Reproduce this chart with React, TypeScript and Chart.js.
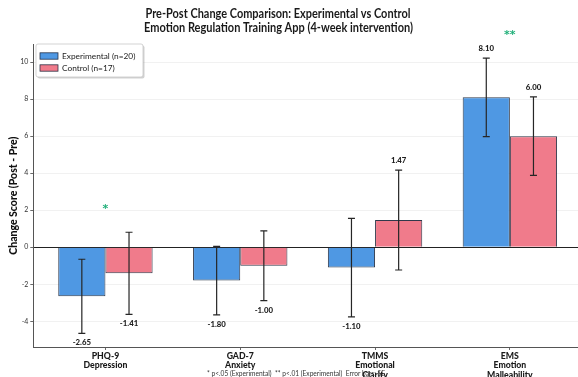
import { useEffect, useRef } from 'react';
import { Chart, registerables } from 'chart.js';
Chart.register(...registerables);

const categories: string[][] = [
  ['PHQ-9', 'Depression'],
  ['GAD-7', 'Anxiety'],
  ['TMMS', 'Emotional', 'Clarity'],
  ['EMS', 'Emotion', 'Malleability'],
];
const expMeans = [-2.65, -1.8, -1.1, 8.1];
const expSE = [2.0, 1.85, 2.66, 2.12];
const ctrlMeans = [-1.41, -1.0, 1.47, 6.0];
const ctrlSE = [2.22, 1.88, 2.7, 2.12];
const significance = ['*', '', '', '**'];
const yTicks = [-4, -2, 0, 2, 4, 6, 8, 10];
const seriesLabels = ['Experimental (n=20)', 'Control (n=17)'];
const titleLines = [
  'Pre-Post Change Comparison: Experimental vs Control',
  'Emotion Regulation Training App (4-week intervention)',
];
const yTitle = 'Change Score (Post - Pre)';
const footnote = '* p<.05 (Experimental)  ** p<.01 (Experimental)  Error bars: SE';

const FONT = 'Lato, "Open Sans", sans-serif';
const BLUE = '#4f98e3';
const PINK = '#f07b8b';
const EDGE = 'rgba(25,35,55,0.9)';
const STAR = '#22b07a';

const seList = [expSE, ctrlSE];
const meanList = [expMeans, ctrlMeans];

const overlayPlugin = {
  id: 'overlay',
  afterDatasetsDraw(chart: any) {
    const ctx = chart.ctx;
    const ys = chart.scales.y;
    ctx.save();
    for (let d = 0; d < 2; d++) {
      const meta = chart.getDatasetMeta(d);
      meta.data.forEach((el: any, i: number) => {
        const v = meanList[d][i];
        const se = seList[d][i];
        const x = el.x;
        const yT = ys.getPixelForValue(v + se);
        const yB = ys.getPixelForValue(v - se);
        ctx.strokeStyle = '#262626';
        ctx.lineWidth = 1.2;
        ctx.beginPath();
        ctx.moveTo(x, yT);
        ctx.lineTo(x, yB);
        ctx.moveTo(x - 3.5, yT);
        ctx.lineTo(x + 3.5, yT);
        ctx.moveTo(x - 3.5, yB);
        ctx.lineTo(x + 3.5, yB);
        ctx.stroke();
        ctx.fillStyle = '#1e1e1e';
        ctx.font = `900 7.8px ${FONT}`;
        ctx.textAlign = 'center';
        if (v >= 0) {
          ctx.textBaseline = 'bottom';
          ctx.fillText(v.toFixed(2), x, ys.getPixelForValue(v + se + 0.3));
        } else {
          ctx.textBaseline = 'top';
          ctx.fillText(v.toFixed(2), x, ys.getPixelForValue(v - se - 0.3));
        }
      });
    }
    ctx.restore();
  },
  afterDraw(chart: any) {
    const ctx = chart.ctx;
    const xs = chart.scales.x;
    const ys = chart.scales.y;
    ctx.save();
    significance.forEach((s, i) => {
      if (!s) return;
      const top = Math.max(expMeans[i] + expSE[i], ctrlMeans[i] + ctrlSE[i]);
      const cy = ys.getPixelForValue(top + 1.37);
      ctx.font = `bold 11px "DejaVu Sans", sans-serif`;
      ctx.fillStyle = STAR;
      ctx.textAlign = 'center';
      ctx.textBaseline = 'alphabetic';
      const m = ctx.measureText(s);
      const off = (m.actualBoundingBoxAscent - m.actualBoundingBoxDescent) / 2;
      ctx.fillText(s, xs.getPixelForValue(i), cy + off);
    });
    ctx.fillStyle = '#1a1a1a';
    ctx.font = `bold 12.5px ${FONT}`;
    ctx.textAlign = 'center';
    ctx.textBaseline = 'middle';
    ctx.fillText(titleLines[0], 278, 14, 265);
    ctx.fillText(titleLines[1], 278.5, 27.5, 269);
    const lx = 36, ly = 44, lw = 107, lh = 33;
    ctx.fillStyle = 'rgba(0,0,0,0.18)';
    ctx.beginPath();
    ctx.roundRect(lx + 1.5, ly + 1.5, lw, lh, 2);
    ctx.fill();
    ctx.fillStyle = '#fff';
    ctx.strokeStyle = '#c8c8c8';
    ctx.lineWidth = 0.8;
    ctx.beginPath();
    ctx.roundRect(lx, ly, lw, lh, 2);
    ctx.fill();
    ctx.stroke();
    const cols = [BLUE, PINK];
    const rowY = [56, 68];
    ctx.font = `8.3px ${FONT}`;
    ctx.textAlign = 'left';
    ctx.textBaseline = 'middle';
    for (let k = 0; k < 2; k++) {
      ctx.fillStyle = cols[k];
      ctx.fillRect(40, rowY[k] - 3.2, 18, 6.4);
      ctx.strokeStyle = EDGE;
      ctx.lineWidth = 0.8;
      ctx.strokeRect(40, rowY[k] - 3.2, 18, 6.4);
      ctx.fillStyle = '#222';
      ctx.fillText(seriesLabels[k], 62, rowY[k], 78);
    }
    ctx.font = `7px ${FONT}`;
    ctx.fillStyle = '#333';
    ctx.textAlign = 'center';
    ctx.fillText(footnote, 296, 373.5, 178);
    ctx.restore();
  },
};

export default function App() {
  const ref = useRef<HTMLCanvasElement | null>(null);
  useEffect(() => {
    if (!ref.current) return;
    const chart = new Chart(ref.current, {
      type: 'bar',
      data: {
        datasets: [
          {
            label: seriesLabels[0],
            data: expMeans.map((y, i) => ({ x: i, y })),
            backgroundColor: BLUE,
            borderColor: EDGE,
            borderWidth: 1,
            categoryPercentage: 0.7,
            barPercentage: 1,
          },
          {
            label: seriesLabels[1],
            data: ctrlMeans.map((y, i) => ({ x: i, y })),
            backgroundColor: PINK,
            borderColor: EDGE,
            borderWidth: 1,
            categoryPercentage: 0.7,
            barPercentage: 1,
          },
        ],
      },
      options: {
        responsive: false,
        animation: false,
        devicePixelRatio: 1,
        layout: { padding: { top: 44.4, left: 0, right: 0, bottom: 0 } },
        plugins: {
          legend: { display: false },
          tooltip: { enabled: false },
          title: { display: false },
        },
        scales: {
          x: {
            type: 'linear',
            offset: false,
            min: -0.535,
            max: 3.535,
            afterBuildTicks: (s: any) => {
              s.ticks = categories.map((_, i) => ({ value: i }));
            },
            afterFit: (s: any) => {
              s.height = 30;
            },
            ticks: {
              callback: (v: any) => categories[Math.round(Number(v))] ?? '',
              font: { family: FONT, size: 8.7, weight: '900', lineHeight: 1.1 },
              color: '#1a1a1a',
              padding: 1,
              maxRotation: 0,
              autoSkip: false,
            },
            grid: {
              offset: false,
              drawOnChartArea: false,
              drawTicks: true,
              tickLength: 3,
              tickColor: '#444',
              tickWidth: 0.8,
            },
            border: { display: true, color: '#555', width: 1 },
          },
          y: {
            type: 'linear',
            min: -5.39,
            max: 10.96,
            afterBuildTicks: (s: any) => {
              s.ticks = yTicks.map((v) => ({ value: v }));
            },
            afterFit: (s: any) => {
              s.width = 33.3;
            },
            ticks: {
              callback: (v: any) => String(v),
              font: { family: FONT, size: 7 },
              color: '#333',
              padding: 2,
            },
            grid: {
              color: (c: any) => (c.tick && c.tick.value === 0 ? '#222' : 'rgba(0,0,0,0.07)'),
              lineWidth: (c: any) => (c.tick && c.tick.value === 0 ? 1 : 0.8),
              tickColor: '#444',
              tickLength: 3,
              tickWidth: 0.8,
            },
            border: { display: true, color: '#555', width: 1 },
            title: {
              display: true,
              text: yTitle,
              font: { family: FONT, size: 10.5, weight: '900' },
              color: '#111',
              padding: { top: 7, bottom: 0 },
            },
          },
        },
      } as any,
      plugins: [overlayPlugin],
    });
    return () => chart.destroy();
  }, []);
  return (
    <div
      style={{
        position: 'fixed',
        left: 0,
        top: 0,
        width: 578,
        height: 377,
        overflow: 'hidden',
        background: '#fff',
      }}
    >
      <canvas ref={ref} width={582} height={377} style={{ width: 582, height: 377, display: 'block' }} />
    </div>
  );
}
